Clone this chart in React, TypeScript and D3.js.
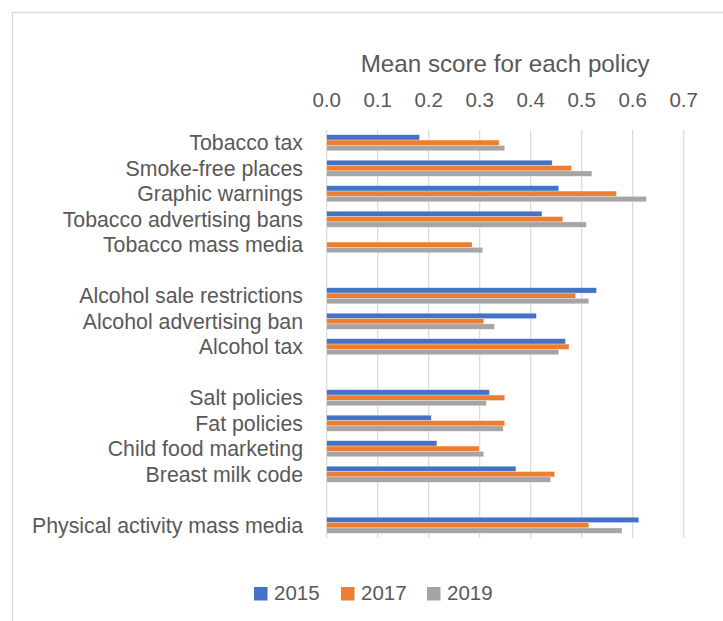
import React from "react";
import * as d3 from "d3";

const categories: string[] = [
  "Tobacco tax",
  "Smoke-free places",
  "Graphic warnings",
  "Tobacco advertising bans",
  "Tobacco mass media",
  "",
  "Alcohol sale restrictions",
  "Alcohol advertising ban",
  "Alcohol tax",
  "",
  "Salt policies",
  "Fat policies",
  "Child food marketing",
  "Breast milk code",
  "",
  "Physical activity mass media",
];

const values2015: (number | null)[] = [0.182, 0.442, 0.455, 0.422, null, null, 0.529, 0.411, 0.468, null, 0.319, 0.205, 0.216, 0.371, null, 0.612];
const values2017: (number | null)[] = [0.338, 0.48, 0.568, 0.463, 0.285, null, 0.488, 0.308, 0.475, null, 0.349, 0.349, 0.299, 0.447, null, 0.514];
const values2019: (number | null)[] = [0.349, 0.52, 0.627, 0.509, 0.306, null, 0.514, 0.329, 0.455, null, 0.313, 0.346, 0.308, 0.439, null, 0.579];

const seriesNames = ["2015", "2017", "2019"];
const seriesColors = ["#4472C4", "#ED7D31", "#A5A5A5"];
const tickValues = [0, 0.1, 0.2, 0.3, 0.4, 0.5, 0.6, 0.7];
const title = "Mean score for each policy";

export default function App() {
  const W = 723;
  const H = 621;
  const font = "'Liberation Sans', Arial, sans-serif";
  const textColor = "#595959";

  const x = d3.scaleLinear().domain([0, 0.7]).range([326.7, 683.7]);
  const keys = categories.map((c, i) => `${i}`);
  const y = d3.scaleBand().domain(keys).range([130, 538]).paddingInner(0).paddingOuter(0);
  const barH = 5.35;
  const allSeries = [values2015, values2017, values2019];

  return (
    <svg width={W} height={H} style={{ position: "absolute", left: 0, top: 0, background: "#fff" }}>
      <rect x={0} y={0} width={W} height={H} fill="#fff" />
      <rect x={12.5} y={12.5} width={W + 50} height={H + 50} fill="#fff" stroke="#d9d9d9" strokeWidth={1.3} />
      <text x={(x(0) + x(0.7)) / 2} y={71.7} textAnchor="middle" fontFamily={font} fontSize={24.2} fill={textColor}>
        {title}
      </text>
      {tickValues.map((t) => (
        <g key={t}>
          <line x1={x(t)} x2={x(t)} y1={130} y2={538} stroke="#d9d9d9" strokeWidth={1.2} />
          <text x={x(t)} y={106.7} textAnchor="middle" fontFamily={font} fontSize={20.5} fill={textColor}>
            {d3.format(".1f")(t)}
          </text>
        </g>
      ))}
      {categories.map((c, i) => {
        const cy = (y(keys[i]) as number) + y.bandwidth() / 2;
        return (
          <g key={i}>
            {c && (
              <text x={303} y={cy + 7.6} textAnchor="end" fontFamily={font} fontSize={21.3} fill={textColor}>
                {c}
              </text>
            )}
            {allSeries.map((vals, s) => {
              const v = vals[i];
              if (v == null) return null;
              const by = cy - (1.5 * barH) + s * barH;
              return (
                <rect
                  key={s}
                  x={x(0)}
                  y={by}
                  width={x(v) - x(0)}
                  height={barH}
                  fill={seriesColors[s]}
                  stroke="#ffffff"
                  strokeOpacity={0.5}
                  strokeWidth={0.6}
                />
              );
            })}
          </g>
        );
      })}
      {seriesNames.map((n, s) => {
        const sx = [254, 341, 427][s];
        return (
          <g key={n}>
            <rect x={sx} y={587} width={13.5} height={13.5} fill={seriesColors[s]} />
            <text x={sx + 20} y={596.7 + 3.5} fontFamily={font} fontSize={20.5} fill={textColor}>
              {n}
            </text>
          </g>
        );
      })}
    </svg>
  );
}
